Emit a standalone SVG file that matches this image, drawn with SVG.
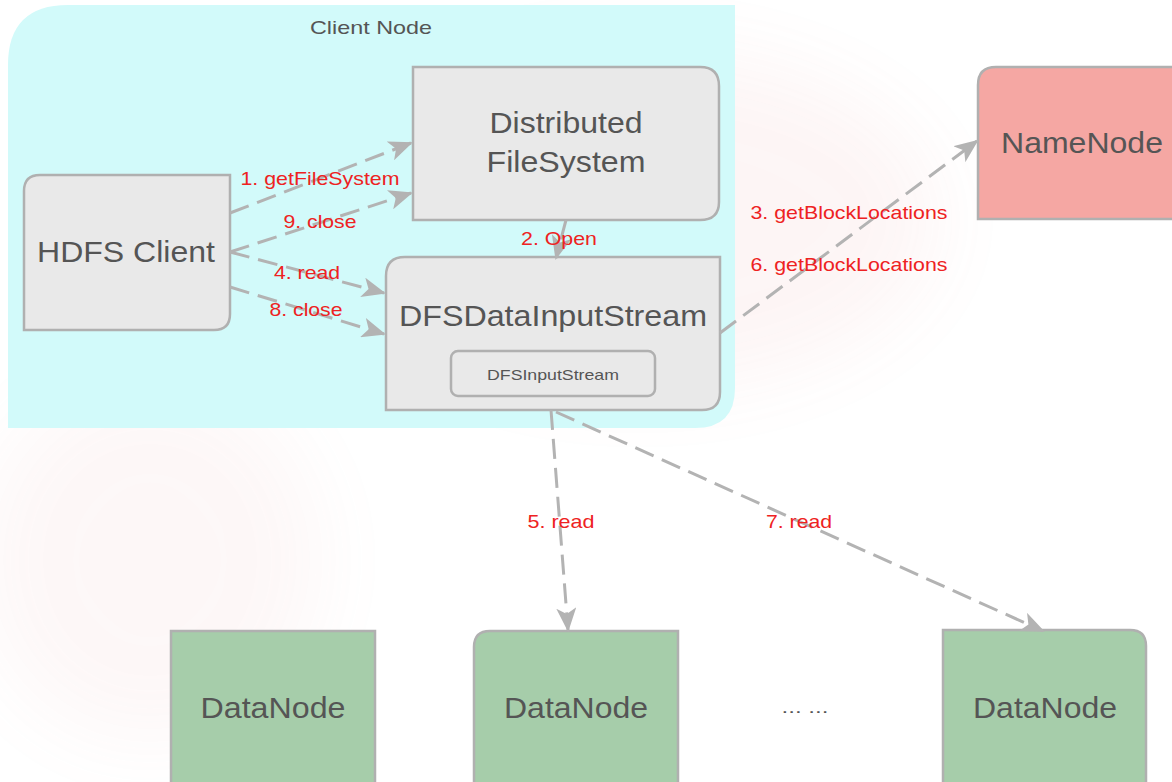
<svg xmlns="http://www.w3.org/2000/svg" width="1172" height="782" viewBox="0 0 1172 782">
<style>
.box{fill:#e9e9e9;stroke:#b0b0b0;stroke-width:2.5}
.dn{fill:#a6cdaa;stroke:#b0b0b0;stroke-width:2.5}
.nn{fill:#f5a7a3;stroke:#b0b0b0;stroke-width:2.5}
.big{font-family:"Liberation Sans",Arial,sans-serif;font-size:30px;fill:#555;text-anchor:middle}
.lbl{font-family:"Liberation Sans",Arial,sans-serif;font-size:19px;fill:#ee2222;text-anchor:middle}
.edge{fill:none;stroke:#b3b3b3;stroke-width:3;stroke-dasharray:20 9}
</style>
<defs>
<marker id="arr" viewBox="0 0 12 10" refX="11" refY="5" markerWidth="24" markerHeight="20" markerUnits="userSpaceOnUse" orient="auto">
<path d="M0,0 L12,5 L0,10 L3,5 z" fill="#b3b3b3"/>
</marker>
<filter id="blur"><feGaussianBlur stdDeviation="40"/></filter>
</defs>
<rect width="1172" height="782" fill="#ffffff"/>
<g opacity="0.06" filter="url(#blur)">
<ellipse cx="640" cy="220" rx="300" ry="170" fill="#e06060"/>
<ellipse cx="150" cy="560" rx="170" ry="180" fill="#e08080"/>
</g>
<g id="client-node">
<path d="M68,5 L735,5 L735,388 Q735,428 695,428 L8,428 L8,65 Q8,5 68,5 Z" fill="#d2fafa"/>
<text x="371" y="34" font-family="Liberation Sans,Arial,sans-serif" font-size="19" fill="#555" text-anchor="middle" textLength="122" lengthAdjust="spacingAndGlyphs">Client Node</text>
</g>
<g id="hdfs-client">
<path class="box" d="M40,175 L230,175 L230,314 Q230,330 214,330 L24,330 L24,191 Q24,175 40,175 Z"/>
<text class="big" x="126" y="262" textLength="178" lengthAdjust="spacingAndGlyphs">HDFS Client</text>
</g>
<g id="distributed-filesystem">
<path class="box" d="M413,67 L700,67 Q719,67 719,86 L719,202 Q719,220 700,220 L413,220 Z"/>
<text class="big" x="566" y="133" textLength="153" lengthAdjust="spacingAndGlyphs">Distributed</text>
<text class="big" x="566" y="172" textLength="159" lengthAdjust="spacingAndGlyphs">FileSystem</text>
</g>
<g id="dfs-data-input-stream">
<path class="box" d="M405,257 L720,257 L720,392 Q720,410 702,410 L386,410 L386,276 Q386,257 405,257 Z"/>
<text class="big" x="553" y="326" textLength="308" lengthAdjust="spacingAndGlyphs">DFSDataInputStream</text>
<rect x="451" y="351" width="204" height="45" rx="7" fill="#e9e9e9" stroke="#b0b0b0" stroke-width="2.5"/>
<text x="553" y="380" font-family="Liberation Sans,Arial,sans-serif" font-size="15" fill="#555" text-anchor="middle" textLength="132" lengthAdjust="spacingAndGlyphs">DFSInputStream</text>
</g>
<g id="namenode">
<path class="nn" d="M996,67 L1180,67 L1180,219 L978,219 L978,85 Q978,67 996,67 Z"/>
<text class="big" x="1082" y="153" textLength="162" lengthAdjust="spacingAndGlyphs">NameNode</text>
</g>
<g id="datanode-1">
<rect class="dn" x="171" y="631" width="204" height="160"/>
<text class="big" x="273" y="718" textLength="145" lengthAdjust="spacingAndGlyphs">DataNode</text>
</g>
<g id="datanode-2">
<path class="dn" d="M490,631 L678,631 L678,790 L474,790 L474,647 Q474,631 490,631 Z"/>
<text class="big" x="576" y="718" textLength="144" lengthAdjust="spacingAndGlyphs">DataNode</text>
</g>
<g id="datanode-3">
<path class="dn" d="M943,630 L1130,630 Q1146,630 1146,646 L1146,790 L943,790 Z"/>
<text class="big" x="1045" y="718" textLength="144" lengthAdjust="spacingAndGlyphs">DataNode</text>
</g>
<g id="ellipsis">
<text x="805" y="713" font-family="Liberation Sans,Arial,sans-serif" font-size="16" fill="#555" text-anchor="middle" textLength="47" lengthAdjust="spacingAndGlyphs">... ...</text>
</g>
<g id="connectors">
<path class="edge" d="M230,213 L411,143" marker-end="url(#arr)"/>
<path class="edge" d="M230,252 L411,193" marker-end="url(#arr)"/>
<path class="edge" d="M230,252 L384,293" marker-end="url(#arr)"/>
<path class="edge" d="M230,287 L384,334" marker-end="url(#arr)"/>
<path class="edge" d="M566,220 L556,258" marker-end="url(#arr)"/>
<path class="edge" d="M720,333 L977,141" marker-end="url(#arr)"/>
<path class="edge" d="M551,410 L568,630" marker-end="url(#arr)"/>
<path class="edge" d="M556,412 L1043,631" marker-end="url(#arr)"/>
</g>
<g id="labels">
<text class="lbl" x="320" y="185" textLength="159" lengthAdjust="spacingAndGlyphs">1. getFileSystem</text>
<text class="lbl" x="320" y="228" textLength="73" lengthAdjust="spacingAndGlyphs">9. close</text>
<text class="lbl" x="307" y="279" textLength="66" lengthAdjust="spacingAndGlyphs">4. read</text>
<text class="lbl" x="306" y="316" textLength="73" lengthAdjust="spacingAndGlyphs">8. close</text>
<text class="lbl" x="559" y="245" textLength="76" lengthAdjust="spacingAndGlyphs">2. Open</text>
<text class="lbl" x="849" y="219" textLength="197" lengthAdjust="spacingAndGlyphs">3. getBlockLocations</text>
<text class="lbl" x="849" y="271" textLength="197" lengthAdjust="spacingAndGlyphs">6. getBlockLocations</text>
<text class="lbl" x="561" y="528" textLength="67" lengthAdjust="spacingAndGlyphs">5. read</text>
<text class="lbl" x="799" y="528" textLength="66" lengthAdjust="spacingAndGlyphs">7. read</text>
</g>
</svg>
